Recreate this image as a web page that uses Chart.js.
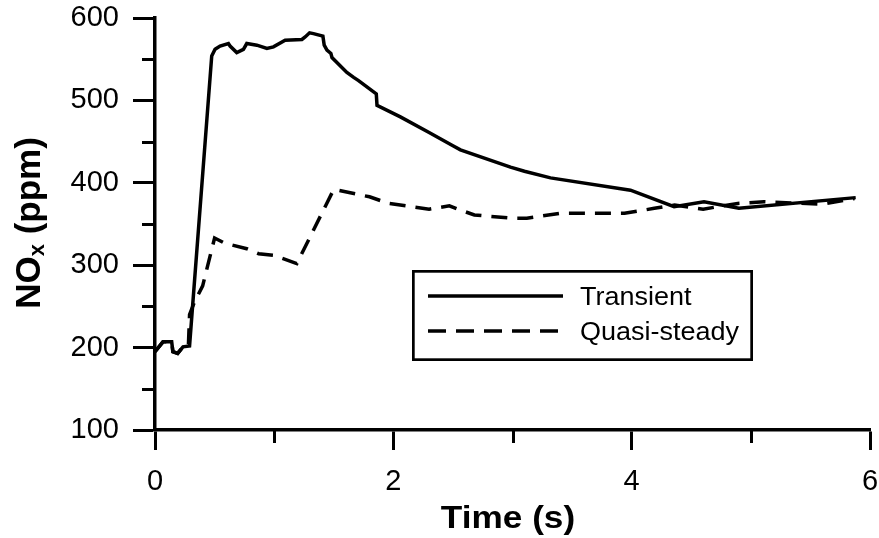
<!DOCTYPE html>
<html>
<head>
<meta charset="utf-8">
<script src="https://cdn.jsdelivr.net/npm/chart.js@4/dist/chart.umd.min.js"></script>
<style>
  html, body { margin: 0; padding: 0; background: #fff; }
  canvas { display: block; }
</style>
</head>
<body>
<canvas id="c" width="879" height="538"></canvas>
<script>
// ---- data ----
const transientTime = [0, 0.067, 0.14, 0.15, 0.19, 0.235, 0.29, 0.476, 0.504, 0.546, 0.616, 0.63, 0.686, 0.742, 0.77, 0.855, 0.939, 0.994, 1.092, 1.233, 1.26, 1.297, 1.33, 1.409, 1.42, 1.443, 1.476, 1.485, 1.61, 1.667, 1.708, 1.857, 1.863, 2.059, 2.3, 2.5, 2.563, 2.983, 3.1, 3.319, 3.99, 4.356, 4.607, 4.9, 5.88];
const transientNOx  = [195, 207, 207, 195, 193, 201, 202, 554, 562, 566, 569, 566, 558, 562, 569, 567, 563, 565, 573, 574, 577, 582, 581, 578, 567, 561, 557, 552, 534, 528, 524, 508, 494, 480, 461, 445, 440, 419, 414, 406, 391, 371, 377, 369, 382];

const quasiTime = [0, 0.067, 0.14, 0.15, 0.19, 0.235, 0.28, 0.29, 0.33, 0.40, 0.50, 0.58, 0.77, 0.87, 1.0, 1.19, 1.5, 1.8, 1.96, 2.3, 2.47, 2.54, 2.68, 3.0, 3.12, 3.4, 3.94, 4.19, 4.36, 4.6, 4.89, 5.11, 5.59, 5.87];
const quasiNOx  = [195, 207, 207, 195, 193, 201, 202, 240, 255, 275, 333, 327, 320, 314, 312, 302, 392, 383, 375, 368, 372, 368, 361, 357, 357, 363, 363, 369, 373, 368, 375, 377, 374, 381];

const seriesLabels = ['Transient', 'Quasi-steady'];
const xMinorTicks = [1, 3, 5];
const yMinorTicks = [150, 250, 350, 450, 550];
const xTitle = 'Time (s)';
const yTitleMain = 'NO', yTitleSub = 'x', yTitleRest = ' (ppm)';

const FONT = '"Liberation Sans", Arial, Helvetica, sans-serif';

const decor = {
  id: 'decor',
  afterDraw(chart) {
    const { ctx, chartArea: a, scales: { x, y } } = chart;
    ctx.save();
    ctx.strokeStyle = '#000';
    ctx.fillStyle = '#000';
    // minor ticks
    ctx.lineWidth = 3;
    xMinorTicks.forEach(v => {
      const px = Math.round(x.getPixelForValue(v)) + 0.5;
      ctx.beginPath(); ctx.moveTo(px, a.bottom); ctx.lineTo(px, a.bottom + 13); ctx.stroke();
    });
    yMinorTicks.forEach(v => {
      const py = Math.round(y.getPixelForValue(v)) + 0.5;
      ctx.beginPath(); ctx.moveTo(a.left, py); ctx.lineTo(a.left - 13, py); ctx.stroke();
    });

    // x title
    ctx.font = 'bold 32px ' + FONT;
    ctx.textAlign = 'center';
    ctx.textBaseline = 'alphabetic';
    ctx.save();
    ctx.translate(508, 528);
    ctx.scale(1.1, 1);
    ctx.fillText(xTitle, 0, 0);
    ctx.restore();

    // y title with subscript
    const big = 'bold 35px ' + FONT, small = 'bold 22px ' + FONT;
    ctx.font = big;
    const wMain = ctx.measureText(yTitleMain).width;
    const wRest = ctx.measureText(yTitleRest).width;
    ctx.font = small;
    const wSub = ctx.measureText(yTitleSub).width;
    const total = wMain + wSub + wRest;
    ctx.save();
    ctx.translate(40, 223);
    ctx.rotate(-Math.PI / 2);
    ctx.textAlign = 'left';
    let sx = -total / 2;
    ctx.font = big; ctx.fillText(yTitleMain, sx, 0); sx += wMain;
    ctx.font = small; ctx.fillText(yTitleSub, sx, 4); sx += wSub;
    ctx.font = big; ctx.fillText(yTitleRest, sx, 0);
    ctx.restore();

    // legend box
    const bx = 412, by = 270, bw = 341, bh = 91, bl = 2.7;
    ctx.fillStyle = '#fff';
    ctx.fillRect(bx, by, bw, bh);
    ctx.lineWidth = bl;
    ctx.strokeRect(bx + bl / 2, by + bl / 2, bw - bl, bh - bl);
    const rows = [296, 331];
    chart.data.datasets.forEach((ds, i) => {
      ctx.lineWidth = 3.5;
      ctx.setLineDash(ds.borderDash ? [18, 10] : []);
      ctx.beginPath(); ctx.moveTo(428, rows[i]); ctx.lineTo(563, rows[i]); ctx.stroke();
      ctx.setLineDash([]);
      ctx.fillStyle = '#000';
      ctx.font = '25px ' + FONT;
      ctx.textAlign = 'left';
      ctx.textBaseline = 'alphabetic';
      ctx.save();
      ctx.translate(580, rows[i] + 9);
      ctx.scale(1.08, 1);
      ctx.fillText(ds.label, 0, 0);
      ctx.restore();
    });
    ctx.restore();
  }
};

const toPts = (xs, ys) => xs.map((t, i) => ({ x: t, y: ys[i] }));
const noPad = s => { s.paddingLeft = 0; s.paddingRight = 0; s.paddingTop = 0; s.paddingBottom = 0; };

new Chart(document.getElementById('c'), {
  type: 'scatter',
  data: {
    datasets: [
      { label: seriesLabels[0], data: toPts(transientTime, transientNOx), showLine: true,
        borderColor: '#000', backgroundColor: '#000', borderWidth: 3.5, pointRadius: 0, tension: 0, fill: false },
      { label: seriesLabels[1], data: toPts(quasiTime, quasiNOx), showLine: true,
        borderColor: '#000', backgroundColor: '#000', borderWidth: 3.5, borderDash: [16, 10], pointRadius: 0, tension: 0, fill: false }
    ]
  },
  options: {
    responsive: false,
    animation: false,
    devicePixelRatio: 1,
    layout: { padding: { left: 0, right: 9, top: 18, bottom: 0 } },
    plugins: { legend: { display: false }, tooltip: { enabled: false } },
    scales: {
      x: {
        type: 'linear', min: 0, max: 6,
        ticks: { stepSize: 2, color: '#000', font: { family: FONT, size: 29 }, padding: 15, maxRotation: 0 },
        grid: { display: true, drawOnChartArea: false, drawTicks: true, tickLength: 20, tickWidth: 3, tickColor: '#000' },
        border: { display: true, color: '#000', width: 3.5 },
        afterFit(s) { s.height = 108; noPad(s); }
      },
      y: {
        type: 'linear', min: 100, max: 600,
        ticks: { stepSize: 100, color: '#000', font: { family: FONT, size: 29 }, padding: 14 },
        grid: { display: true, drawOnChartArea: false, drawTicks: true, tickLength: 22, tickWidth: 3, tickColor: '#000' },
        border: { display: true, color: '#000', width: 3.5 },
        afterFit(s) { s.width = 155; noPad(s); }
      }
    }
  },
  plugins: [decor]
});
</script>
</body>
</html>
